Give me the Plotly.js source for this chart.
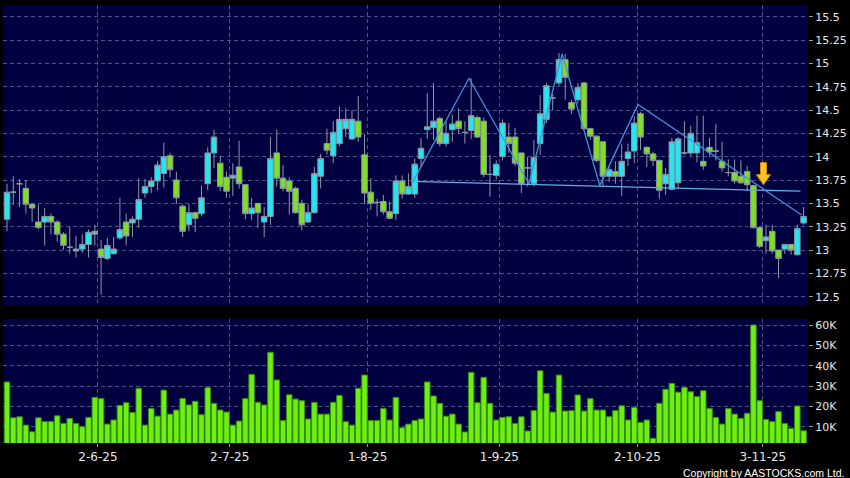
<!DOCTYPE html>
<html><head><meta charset="utf-8">
<script src="https://cdn.plot.ly/plotly-3.0.1.min.js"></script>
<style>html,body{margin:0;padding:0;background:#000;}#chart{width:850px;height:478px;}</style>
</head><body><div id="chart"></div>
<script>
// OHLC per trading day (index 0 = 13-5-25 ... index 127 = 12-11-25)
const openP = [13.33,13.62,13.71,13.66,13.49,13.30,13.30,13.36,13.30,13.17,13.03,13.01,13.01,13.06,13.17,13.01,12.91,12.96,13.13,13.30,
13.29,13.33,13.61,13.68,13.74,13.82,14.01,13.75,13.47,13.27,13.40,13.39,13.71,14.04,13.93,13.78,13.77,13.89,13.70,13.39,
13.50,13.30,13.36,14.04,13.77,13.74,13.66,13.50,13.30,13.40,13.79,14.14,14.01,14.14,14.30,14.19,14.38,14.02,13.62,13.51,
13.52,13.41,13.39,13.74,13.60,13.60,13.98,14.29,14.31,14.41,14.14,14.29,14.38,14.26,14.28,14.42,14.38,13.81,13.80,14.00,
14.21,14.21,14.04,13.88,13.71,14.14,14.40,14.63,14.79,15.04,14.58,14.61,14.79,14.30,14.22,14.16,13.79,13.84,13.79,13.98,
14.06,14.46,14.10,14.03,13.96,13.71,13.65,13.72,14.04,14.04,14.04,13.95,14.10,14.06,13.95,13.83,13.83,13.79,13.84,13.69,
13.24,13.10,13.20,13.00,13.01,13.06,12.95,13.29];
const highP = [13.71,13.79,13.76,13.75,13.50,13.49,13.45,13.39,13.32,13.19,13.25,13.15,13.17,13.22,13.27,13.11,13.13,13.14,13.56,13.39,
13.36,13.77,13.76,13.78,13.95,14.15,14.04,13.84,13.49,13.49,13.41,13.69,14.10,14.29,14.01,13.84,13.93,14.17,13.71,13.56,
13.50,13.46,14.21,14.29,13.91,13.78,13.68,13.54,13.49,13.89,14.03,14.30,14.38,14.54,14.52,14.50,14.65,14.24,13.77,13.55,
13.59,13.52,13.80,13.80,13.82,13.98,14.20,14.68,14.79,14.43,14.38,14.45,14.52,14.38,14.84,14.44,14.42,14.02,13.96,14.40,
14.36,14.31,14.04,14.00,14.18,14.66,14.79,14.67,15.11,15.10,14.61,14.79,14.80,14.31,14.23,14.16,13.89,13.95,14.14,14.14,
14.43,14.48,14.11,14.05,13.97,13.88,14.20,14.21,14.38,14.33,14.44,14.44,14.20,14.35,14.16,13.97,13.97,13.96,13.90,13.70,
13.24,13.27,13.27,13.00,13.06,13.06,13.27,13.46];
const lowP = [13.20,13.48,13.46,13.39,13.30,13.22,13.05,13.17,13.09,13.00,12.96,12.92,12.97,12.92,13.05,12.52,12.89,12.95,13.11,13.05,
13.14,13.24,13.56,13.61,13.64,13.67,13.78,13.49,13.14,13.20,13.19,13.36,13.64,13.88,13.63,13.56,13.58,13.66,13.33,13.32,
13.24,13.14,13.27,13.68,13.63,13.38,13.39,13.21,13.29,13.39,13.66,14.02,13.93,14.11,14.21,14.18,14.16,13.49,13.43,13.36,
13.38,13.33,13.32,13.55,13.59,13.56,13.89,14.19,14.18,14.11,14.11,14.16,14.24,14.14,14.19,14.20,13.78,13.57,13.76,13.96,
14.04,13.90,13.61,13.68,13.68,14.02,14.36,14.50,14.76,14.61,14.46,14.57,14.29,14.18,13.94,13.68,13.73,13.71,13.58,13.90,
13.93,14.07,13.89,13.90,13.55,13.59,13.64,13.66,14.02,14.01,13.94,13.86,14.00,13.96,13.84,13.79,13.71,13.71,13.63,13.23,
13.02,12.96,12.96,12.70,12.96,12.95,12.94,13.27];
const closeP = [13.62,13.62,13.71,13.49,13.45,13.24,13.36,13.30,13.17,13.05,13.03,12.99,13.06,13.19,13.20,12.92,13.05,13.01,13.22,13.15,
13.33,13.54,13.68,13.74,13.91,14.00,13.86,13.56,13.20,13.40,13.34,13.56,14.04,14.21,13.68,13.63,13.80,13.71,13.39,13.45,
13.40,13.36,13.98,13.77,13.66,13.63,13.40,13.27,13.40,13.82,13.98,14.07,14.26,14.40,14.40,14.40,14.21,13.61,13.50,13.51,
13.41,13.34,13.74,13.60,13.68,13.92,14.09,14.32,14.38,14.14,14.25,14.35,14.30,14.26,14.44,14.21,13.81,13.81,13.92,14.36,
14.14,13.93,13.71,13.88,13.99,14.46,14.76,14.63,15.04,14.85,14.51,14.74,14.30,14.22,13.96,13.79,13.86,13.79,13.95,14.05,
14.36,14.21,14.03,13.96,13.64,13.81,14.16,14.19,14.04,14.25,14.15,13.90,14.05,14.06,13.88,13.83,13.74,13.72,13.70,13.24,
13.04,13.14,12.99,12.91,13.06,13.00,13.23,13.36];
const volume = [32.0,14.4,14.9,10.8,7.5,14.4,12.5,12.5,15.4,11.6,14.1,11.6,10.0,14.6,24.4,23.8,11.3,13.3,20.5,21.8,
17.0,28.9,10.8,19.0,15.2,28.0,16.2,18.2,23.9,20.7,22.5,15.9,29.2,21.5,18.2,17.2,10.8,12.8,23.8,35.7,
22.0,20.7,46.6,33.0,13.0,25.7,23.6,22.8,13.8,22.0,16.2,16.2,22.0,25.4,12.5,10.8,28.9,35.4,13.0,13.0,
19.0,13.3,24.4,9.5,11.3,13.0,13.8,32.0,25.1,21.5,15.2,16.2,11.3,7.4,36.7,21.8,34.3,21.5,13.3,14.6,
14.9,11.6,14.9,7.9,17.9,37.5,26.4,17.2,35.4,17.7,17.9,25.6,17.7,23.8,18.2,18.2,14.9,17.9,20.3,13.3,
19.5,12.1,13.3,4.3,21.5,28.4,31.3,27.0,29.3,27.2,24.8,27.7,19.0,14.6,11.3,19.0,16.2,14.1,16.6,60.0,
22.8,13.6,12.5,17.4,11.6,9.2,20.2,8.0]; // thousands of shares

// date axis labels (trading-day index of each labelled day)
const tickIdx = [14, 35, 57, 78, 100, 120];
const tickLabels = ['2-6-25', '2-7-25', '1-8-25', '1-9-25', '2-10-25', '3-11-25'];

// price axis ticks
const priceTicks = [12.5, 12.75, 13, 13.25, 13.5, 13.75, 14, 14.25, 14.5, 14.75, 15, 15.25, 15.5];
const priceLabels = ['12.5', '12.75', '13', '13.25', '13.5', '13.75', '14', '14.25', '14.5', '14.75', '15', '15.25', '15.5'];
// volume axis ticks
const volTicks = [10, 20, 30, 40, 50, 60];
const volLabels = ['10K', '20K', '30K', '40K', '50K', '60K'];

// head-and-shoulders drawing (index, price)
const hsX = [64.7, 73.65, 83.2, 88.5, 94.5, 100.6, 126.7];
const hsY = [13.73, 14.84, 13.71, 15.10, 13.69, 14.56, 13.375];
const neckX = [64.5, 126.5];
const neckY = [13.735, 13.63];
// breakdown arrow position
const arrowIdx = 120.6;
const arrowPrice = 13.70;

const idx = openP.map((_, i) => i);
const gridCol = '#4c5088';
const gridDash = '4px,3px';
const tickFont = {family: 'DejaVu Sans', size: 11, color: '#e6e6e6'};
const xr = [-0.64, 127.7];

const traces = [
  {type: 'candlestick', x: idx, open: openP, high: highP, low: lowP, close: closeP,
   xaxis: 'x', yaxis: 'y', whiskerwidth: 0, hoverinfo: 'skip',
   increasing: {fillcolor: '#22e6f2', line: {color: '#8d98a4', width: 1}},
   decreasing: {fillcolor: '#7fe021', line: {color: '#8d98a4', width: 1}}},
  {type: 'scatter', mode: 'lines', x: neckX, y: neckY, xaxis: 'x', yaxis: 'y',
   line: {color: '#62aee4', width: 1.3}, hoverinfo: 'skip'},
  {type: 'scatter', mode: 'lines', x: hsX, y: hsY, xaxis: 'x', yaxis: 'y',
   line: {color: '#3f93d8', width: 1.3}, hoverinfo: 'skip'},
  {type: 'bar', x: idx, y: volume.map(v => v * 1000), xaxis: 'x2', yaxis: 'y2',
   marker: {color: '#6cf012', line: {color: '#3a8a12', width: 1}}, hoverinfo: 'skip'}
];

const layout = {
  width: 850, height: 478,
  paper_bgcolor: '#000000', plot_bgcolor: '#000040',
  margin: {l: 0, r: 0, t: 0, b: 0},
  showlegend: false, boxgap: 0.12, boxgroupgap: 0, bargap: 0.12,
  xaxis: {domain: [3/850, 808/850], range: xr, anchor: 'y', showticklabels: false,
    tickmode: 'array', tickvals: tickIdx.map(i => i + 0.5), ticks: '',
    showgrid: true, gridcolor: gridCol, griddash: gridDash, gridwidth: 1, zeroline: false,
    rangeslider: {visible: false}, fixedrange: true},
  yaxis: {domain: [(478-305)/478, (478-5)/478], range: [12.411, 15.625], anchor: 'x', side: 'right',
    tickmode: 'array', tickvals: priceTicks, ticktext: priceLabels, ticks: 'outside', ticklen: 4,
    tickcolor: '#9a9a9a', tickfont: tickFont, showgrid: true, gridcolor: gridCol, griddash: gridDash,
    zeroline: false, showline: false, fixedrange: true},
  xaxis2: {domain: [3/850, 808/850], range: xr, anchor: 'y2',
    tickmode: 'array', tickvals: tickIdx.map(i => i + 0.5), ticktext: tickLabels,
    ticks: 'outside', ticklen: 3, tickcolor: '#9a9a9a',
    tickfont: {family: 'DejaVu Sans', size: 12, color: '#e6e6e6'},
    showgrid: true, gridcolor: gridCol, griddash: gridDash, zeroline: false, fixedrange: true},
  yaxis2: {domain: [(478-443)/478, (478-319)/478], range: [2000, 62950], anchor: 'x2', side: 'right',
    tickmode: 'array', tickvals: volTicks.map(v => v * 1000), ticktext: volLabels, ticks: 'outside', ticklen: 4,
    tickcolor: '#9a9a9a', tickfont: tickFont, showgrid: true, gridcolor: gridCol, griddash: gridDash,
    zeroline: false, fixedrange: true},
  shapes: [{type: 'path', xref: 'x', yref: 'y', xsizemode: 'pixel', ysizemode: 'pixel',
    xanchor: arrowIdx, yanchor: arrowPrice,
    path: 'M-3,22 L3,22 L3,10 L7,10 L0,0 L-7,10 L-3,10 Z',
    fillcolor: '#f8c51c', line: {color: '#d88a00', width: 1}}],
  annotations: [{xref: 'paper', yref: 'paper', x: 0.9955, y: -0.006, xanchor: 'right', yanchor: 'bottom',
    text: 'Copyright by AASTOCKS.com Ltd.', showarrow: false,
    font: {family: 'Liberation Sans', size: 10.5, color: '#ffffff'}}]
};

Plotly.newPlot('chart', traces, layout, {staticPlot: true, displayModeBar: false});
</script>
</body></html>
